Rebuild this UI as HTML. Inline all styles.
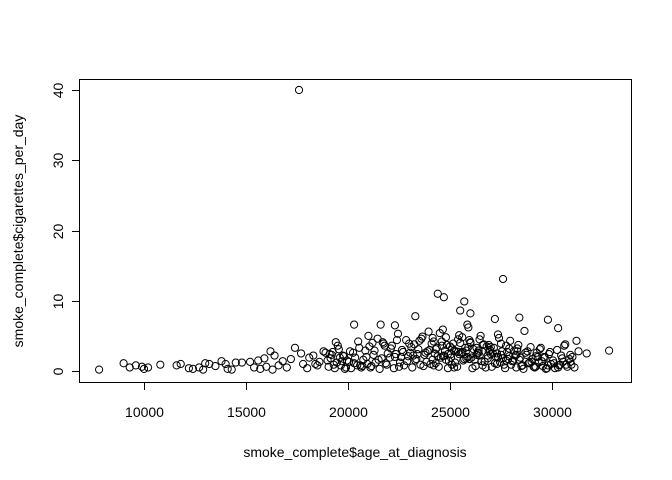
<!DOCTYPE html>
<html><head><meta charset="utf-8"><style>
html,body{margin:0;padding:0;background:#fff;}
svg{display:block;font-family:"Liberation Sans",Arial,sans-serif;}
</style></head><body>
<svg id="chart" width="672" height="480" viewBox="0 0 672 480">
<rect x="79.5" y="79.5" width="552" height="303" fill="none" stroke="#000" stroke-width="1"/>
<g id="xaxis"></g>
<g id="yaxis"></g>
<g id="pts"></g>
<text x="355" y="457" font-size="14" text-anchor="middle">smoke_complete$age_at_diagnosis</text>
<text transform="translate(23,231) rotate(-90)" font-size="14" text-anchor="middle">smoke_complete$cigarettes_per_day</text>
</svg>
<script>
const xTicks=[10000,15000,20000,25000,30000];
const yTicks=[0,10,20,30,40];
const ages=[
7800,9000,9300,9600,9900,10000,10200,10800,11600,11800,
12200,12400,12700,12900,13000,13200,13500,13800,14000,14100,
14300,14500,14800,15200,15400,15600,15700,15900,16000,16200,
16300,16400,16600,16800,17000,17200,17400,17600,17700,17800,
18000,18100,18300,18500,18600,18800,19000,19200,19400,19600,
20300,21600,22300,23300,24400,24700,25500,25700,26000,27600,
27200,28400,29800,30300,32800,31700,31200,25850,25900,21000,
19050,19150,19250,19350,19450,19550,19650,19750,19850,19950,
19100,19300,19500,19700,19900,20100,20300,20500,20700,20900,
20050,20150,20250,20350,20450,20550,20650,20750,20850,20950,
21050,21150,21250,21350,21450,21550,21650,21750,21850,21950,
21100,21300,21500,21700,21900,22100,22300,22500,22700,22900,
22050,22150,22250,22350,22450,22550,22650,22750,22850,22950,
23050,23150,23250,23350,23450,23550,23650,23750,23850,23950,
23100,23300,23500,23700,23900,24100,24300,24500,24700,24900,
24050,24150,24250,24350,24450,24550,24650,24750,24850,24950,
24000,24200,24400,24600,24800,25000,25200,25400,25600,25800,
25050,25150,25250,25350,25450,25550,25650,25750,25850,25950,
25100,25300,25500,25700,25900,26100,26300,26500,26700,26900,
26050,26150,26250,26350,26450,26550,26650,26750,26850,26950,
26000,26200,26400,26600,26800,27000,27200,27400,27600,27800,
27050,27150,27250,27350,27450,27550,27650,27750,27850,27950,
27100,27300,27500,27700,27900,28100,28300,28500,28700,28900,
28050,28150,28250,28350,28450,28550,28650,28750,28850,28950,
28000,28200,28400,28600,28800,29000,29200,29400,29600,29800,
29050,29150,29250,29350,29450,29550,29650,29750,29850,29950,
29100,29300,29500,29700,29900,30100,30300,30500,30700,30900,
30050,30150,30250,30350,30450,30550,30650,30750,30850,30950,
21200,21800,22400,23000,23600,24200,24800,25400,26000,26600,
23200,23800,24300,24900,25200,25600,26300,26900,27300,27900,
22600,23400,24600,25100,25800,26400,27000,27500,28300,29200,
24150,24650,25050,25450,25950,26450,26850,27350,27750,28250,
31000,31100,30900,30600,30400,31300,19800,20600,18900,18400];
const cigs=[
0.2,1.1,0.5,0.8,0.6,0.3,0.5,0.9,0.8,1.0,
0.4,0.3,0.5,0.2,1.1,1.0,0.7,1.4,1.0,0.3,
0.2,1.2,1.2,1.3,0.5,1.5,0.3,1.8,0.6,2.8,
0.2,2.2,0.8,1.4,0.5,1.7,3.3,40,2.5,1.0,
0.4,1.9,2.2,0.8,1.3,2.8,1.5,2.3,4.1,1.9,
6.6,6.6,6.5,7.8,11.0,10.5,8.6,9.9,8.2,13.1,
7.4,7.6,7.3,6.1,2.9,2.5,4.3,6.6,6.2,5.0,
0.6,1.8,2.7,0.4,1.2,3.1,0.8,2.2,0.3,1.5,
2.4,0.9,3.6,1.4,0.5,2.8,1.1,4.2,0.7,2.0,
1.3,0.4,2.6,1.9,0.8,3.3,0.5,1.6,2.9,1.0,
3.5,0.7,2.3,1.2,4.6,0.3,1.8,3.9,1.1,2.5,
0.5,2.9,1.6,4.1,0.9,3.2,2.0,0.6,2.7,1.4,
1.9,3.6,0.4,2.4,5.3,1.2,3.0,0.8,4.4,2.1,
2.6,0.5,3.8,1.7,3.1,0.9,4.9,2.3,1.3,5.6,
3.4,1.5,4.3,0.7,2.8,3.9,1.1,5.4,2.2,0.4,
1.0,4.7,2.5,3.3,0.6,1.9,5.9,2.9,3.7,1.4,
3.0,0.8,2.1,4.2,1.6,3.5,0.5,2.7,4.8,1.8,
2.4,3.9,1.2,0.6,5.1,2.6,1.5,3.3,2.0,4.4,
0.9,2.8,4.0,1.7,3.4,0.4,2.3,5.0,1.3,3.7,
1.9,3.1,0.7,2.6,4.5,1.4,3.8,0.5,2.2,3.0,
4.1,1.6,2.9,0.8,3.5,2.4,1.1,4.7,1.8,2.7,
0.6,3.3,2.0,5.2,1.3,2.8,0.9,3.6,1.7,4.3,
2.5,1.0,3.9,0.4,2.1,1.5,3.2,0.7,2.6,1.2,
1.4,2.9,0.5,3.7,1.9,0.8,5.7,2.3,1.1,3.4,
0.9,2.2,1.6,0.3,2.8,1.3,0.6,3.1,2.0,0.8,
1.7,0.5,2.6,1.2,3.3,0.7,1.9,0.4,2.4,1.0,
0.6,2.0,1.4,0.3,2.7,1.1,0.5,1.8,0.9,2.3,
1.5,0.4,3.0,0.8,2.2,1.3,3.8,0.6,1.7,0.9,
4.0,3.6,4.4,3.9,4.6,4.2,4.8,4.5,4.0,3.7,
2.2,2.6,3.1,2.4,2.9,2.7,3.3,2.8,2.5,3.2,
2.0,2.4,3.6,3.2,2.9,2.6,3.4,2.3,2.8,2.1,
1.6,2.1,1.9,2.4,1.7,2.2,1.8,2.0,1.5,2.3,
2.0,0.5,1.3,3.6,0.9,2.8,2.1,0.8,2.6,1.0];
const X=v=>144+(v-10000)*0.0204;
const Y=v=>371-v*7.025;
const NS="http://www.w3.org/2000/svg";
const xa=document.getElementById('xaxis'),ya=document.getElementById('yaxis'),pg=document.getElementById('pts');
function mk(t,a,p){const e=document.createElementNS(NS,t);for(const k in a)e.setAttribute(k,a[k]);p.appendChild(e);return e;}
mk('line',{x1:X(xTicks[0]),x2:X(xTicks[xTicks.length-1]),y1:382.5,y2:382.5,stroke:'#000'},xa);
xTicks.forEach(t=>{const x=Math.round(X(t))+0.5;
const l=mk('line',{x1:x,x2:x,y1:382,y2:390,stroke:'#000'},xa);


const tx=mk('text',{x:x,y:417,'font-size':14,'text-anchor':'middle'},xa);tx.textContent=t;

});
mk('line',{x1:79.5,x2:79.5,y1:Y(0),y2:Y(40),stroke:'#000'},ya);
yTicks.forEach(t=>{const y=Math.round(Y(t))+0.5;
const l=mk('line',{x1:72,x2:79,y1:y,y2:y,stroke:'#000'},ya);


const tx=mk('text',{transform:`translate(63,${y}) rotate(-90)`,'font-size':14,'text-anchor':'middle'},ya);tx.textContent=t;

});
const n=Math.min(ages.length,cigs.length);
for(let i=0;i<n;i++){const c=mk('circle',{cx:X(ages[i]),cy:Y(cigs[i]),r:3.6,fill:'none',stroke:'#000','stroke-width':1},pg);

}
</script>
</body></html>
